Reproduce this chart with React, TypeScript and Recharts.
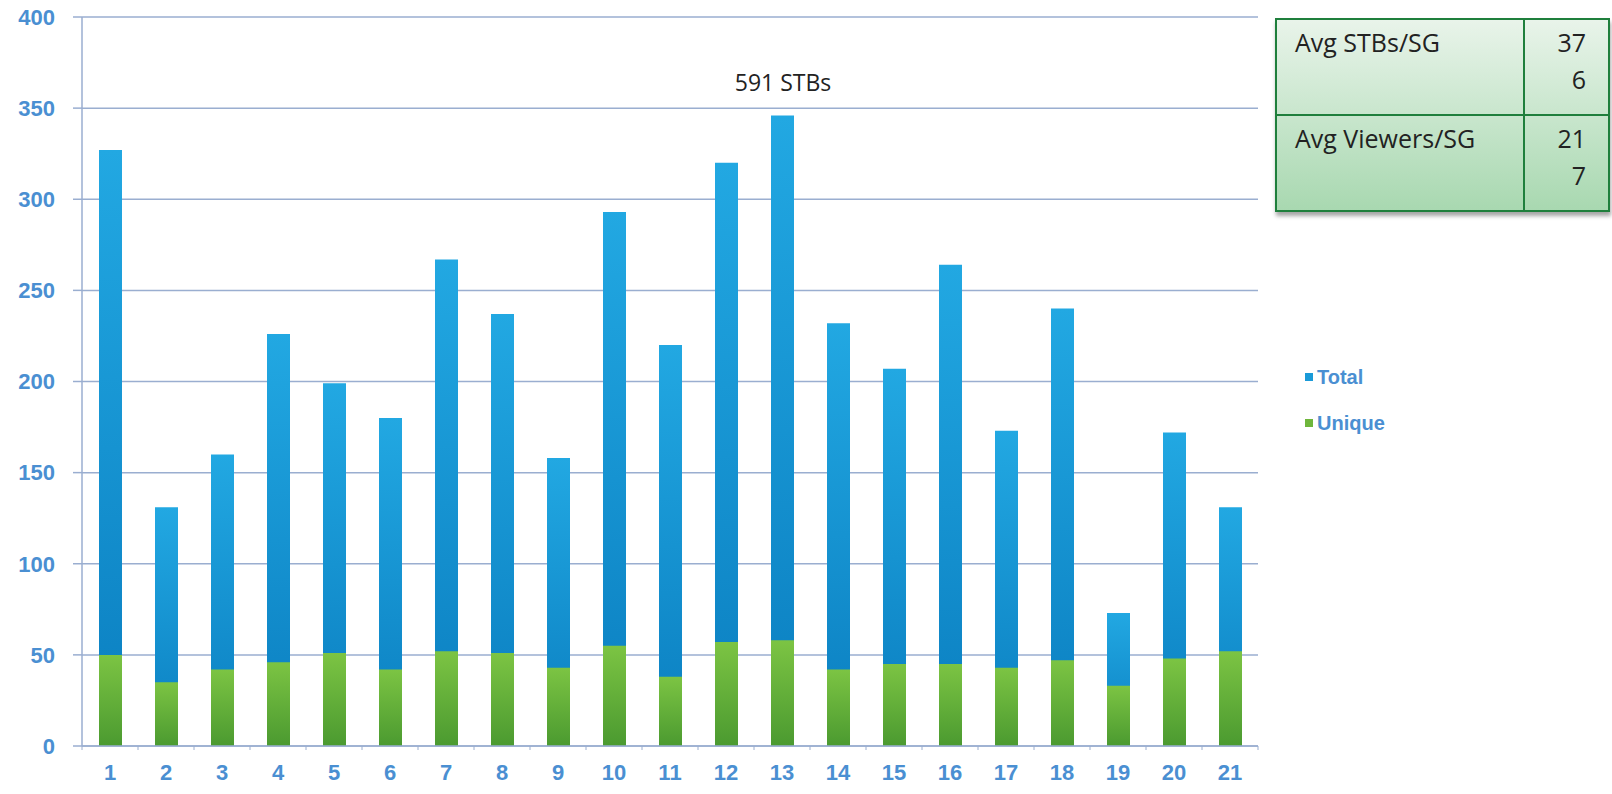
import { BarChart, Bar, XAxis, YAxis, CartesianGrid, Legend } from "recharts"

const groups = ["1", "2", "3", "4", "5", "6", "7", "8", "9", "10", "11", "12", "13", "14", "15", "16", "17", "18", "19", "20", "21"]
const totalStbs = [327, 131, 160, 226, 199, 180, 267, 237, 158, 293, 220, 320, 346, 232, 207, 264, 173, 240, 73, 172, 131]
const uniqueViewers = [50, 35, 42, 46, 51, 42, 52, 51, 43, 55, 38, 57, 58, 42, 45, 45, 43, 47, 33, 48, 52]
const yTicks = [0, 50, 100, 150, 200, 250, 300, 350, 400]

const summaryRows = [
  { label: "Avg STBs/SG", value: ["37", "6"] },
  { label: "Avg Viewers/SG", value: ["21", "7"] },
]
const peakNote = "591 STBs"

const data = groups.map((g, i) => ({ group: g, Total: totalStbs[i], Unique: uniqueViewers[i] }))

const AXIS_BLUE = "#4a8fd2"
const GRID = "#9aaed0"

function XTick(props: any) {
  const { x, y, payload } = props
  const half = 28
  return (
    <g>
      <line x1={x + half} y1={y - 8} x2={x + half} y2={y - 4} stroke={GRID} strokeWidth={1} />
      {payload.index === 0 && <line x1={x - half} y1={y - 8} x2={x - half} y2={y - 4} stroke={GRID} />}
      <text x={x} y={y + 26} textAnchor="middle" fill={AXIS_BLUE} fontSize={22} fontWeight="bold" fontFamily="Liberation Sans, Arial, sans-serif">
        {payload.value}
      </text>
    </g>
  )
}

function LegendBox(props: any) {
  const { payload } = props
  return (
    <div style={{ fontFamily: "Liberation Sans, Arial, sans-serif", fontWeight: "bold", fontSize: 20, color: AXIS_BLUE }}>
      {payload.map((p: any) => (
        <div key={p.value} style={{ display: "flex", alignItems: "center", height: 24, marginBottom: 22 }}>
          <span style={{ width: 8, height: 8, background: p.value === "Total" ? "#1a9ad8" : "#6fb63c", marginRight: 4 }} />
          {p.value}
        </div>
      ))}
    </div>
  )
}

export default function App() {
  return (
    <div style={{ position: "relative", width: 1612, height: 794, background: "#fff" }}>
      <style>{`body{margin:0}`}</style>
      <BarChart width={1612} height={794} data={data} margin={{ top: 17, right: 354, left: 0, bottom: 0 }} barSize={23} barGap={-23}>
        <defs>
          <linearGradient id="gTotal" x1="0" y1="0" x2="0" y2="1">
            <stop offset="0%" stopColor="#22a8e2" />
            <stop offset="100%" stopColor="#0a7ec0" />
          </linearGradient>
          <linearGradient id="gUnique" x1="0" y1="0" x2="0" y2="1">
            <stop offset="0%" stopColor="#7cc443" />
            <stop offset="100%" stopColor="#4b9a30" />
          </linearGradient>
        </defs>
        <CartesianGrid vertical={false} stroke={GRID} strokeWidth={1.5} />
        <XAxis
          dataKey="group"
          height={48}
          axisLine={{ stroke: GRID, strokeWidth: 1.5 }}
          tickLine={false}
          tick={<XTick />}
          interval={0}
        />
        <YAxis
          width={82}
          domain={[0, 400]}
          ticks={yTicks}
          axisLine={{ stroke: GRID, strokeWidth: 1.5 }}
          tickLine={{ stroke: GRID, strokeWidth: 1.5 }}
          tickSize={9}
          tickMargin={18}
          tick={{ fill: AXIS_BLUE, fontSize: 22, fontWeight: "bold", fontFamily: "Liberation Sans, Arial, sans-serif" }}
        />
        <Legend
          layout="horizontal"
          verticalAlign="middle"
          align="center"
          content={<LegendBox />}
          wrapperStyle={{ top: 365, left: 1305, width: 150 }}
        />
        <Bar dataKey="Total" fill="url(#gTotal)" isAnimationActive={false} />
        <Bar dataKey="Unique" fill="url(#gUnique)" isAnimationActive={false} />
      </BarChart>
      <div style={{ position: "absolute", left: 698, top: 66, fontFamily: "Open Sans, Noto Sans, sans-serif", fontSize: 23, color: "#222", width: 170, textAlign: "center" }}>
        {peakNote}
      </div>
      <div
        style={{
          position: "absolute",
          left: 1275,
          top: 18,
          width: 335,
          boxShadow: "1px 4px 4px rgba(0,0,0,0.35)",
          fontFamily: "Open Sans, Noto Sans, sans-serif",
          fontSize: 25,
          color: "#222",
        }}
      >
        <table style={{ borderCollapse: "collapse", width: "100%", background: "linear-gradient(#e9f4ea, #a8d8b0)" }}>
          <tbody>
            {summaryRows.map((r) => (
              <tr key={r.label} style={{ height: 96 }}>
                <td style={{ border: "2px solid #1f7f3c", padding: "4px 18px", verticalAlign: "top", width: 210, lineHeight: "37px" }}>{r.label}</td>
                <td style={{ border: "2px solid #1f7f3c", padding: "4px 22px 4px 0", verticalAlign: "top", textAlign: "right", lineHeight: "37px" }}>
                  {r.value[0]}
                  <br />
                  {r.value[1]}
                </td>
              </tr>
            ))}
          </tbody>
        </table>
      </div>
    </div>
  )
}
